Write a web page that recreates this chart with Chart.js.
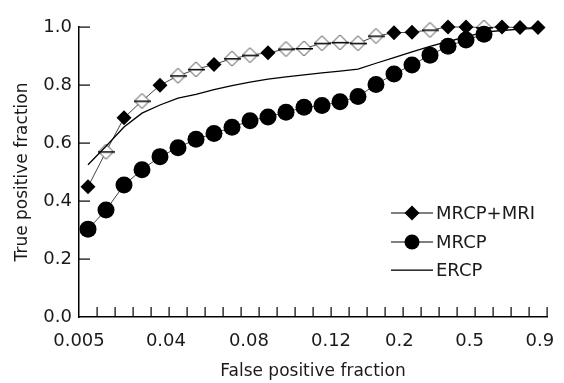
<!DOCTYPE html>
<html>
<head>
<meta charset="utf-8">
<script src="https://cdn.jsdelivr.net/npm/chart.js@4.4.1/dist/chart.umd.min.js"></script>
<style>
  html, body { margin: 0; padding: 0; background: #fff; }
  #wrap { width: 564px; height: 383px; }
  #note { position: absolute; left: 0; top: 0; width: 1px; height: 1px; overflow: hidden; color: #fff; }
</style>
</head>
<body>
<div id="wrap"><canvas id="rocChart" width="564" height="383"></canvas></div>
<div id="note"></div>
<script>
// x positions are steps along the false positive axis (26 steps)
const tickLabels = ["0.005", "0.04", "0.08", "0.12", "0.2", "0.5", "0.9"];
const tickSteps = [0, 4.83, 9.44, 14, 17.8, 21.7, 25.6];
const stepCount = 26;

const mrcpMri = [0.449, 0.570, 0.687, 0.745, 0.799, 0.832, 0.854, 0.871, 0.891, 0.903, 0.911, 0.924, 0.926,
                 0.944, 0.947, 0.944, 0.969, 0.980, 0.982, 0.990, 1.0, 1.0, 0.998, 1.0, 0.998, 0.998];
const mrcpMriFilled = [1, 0, 1, 0, 1, 0, 0, 1, 0, 0, 1, 0, 0, 0, 0, 0, 0, 1, 1, 0, 1, 1, 0, 1, 1, 1];
const mrcp = [0.303, 0.369, 0.455, 0.508, 0.553, 0.584, 0.613, 0.633, 0.654, 0.677, 0.690, 0.706,
              0.723, 0.729, 0.742, 0.760, 0.802, 0.838, 0.869, 0.903, 0.934, 0.955, 0.975];
const ercp = [0.525, 0.589, 0.655, 0.703, 0.731, 0.755, 0.768, 0.784, 0.798, 0.810, 0.820, 0.828, 0.835,
              0.842, 0.848, 0.855, 0.875, 0.894, 0.914, 0.933, 0.950, 0.966, 0.982, 0.988, 0.993, 0.995];

const FONT = "'DejaVu Sans', sans-serif";
const TEXT = "#1a1a1a";

function toPoints(arr) {
  return arr.map((v, i) => ({ x: i + 0.5, y: v }));
}

// open diamond with a dash through it
const hollowDiamond = document.createElement("canvas");
hollowDiamond.width = 17;
hollowDiamond.height = 17;
(function () {
  const c = hollowDiamond.getContext("2d");
  c.beginPath();
  c.moveTo(8.5, 1);
  c.lineTo(16, 8.5);
  c.lineTo(8.5, 16);
  c.lineTo(1, 8.5);
  c.closePath();
  c.fillStyle = "#fff";
  c.fill();
  c.strokeStyle = "#333";
  c.lineWidth = 1;
  c.stroke();
  c.fillStyle = "#000";
  c.fillRect(0, 8, 17, 1.5);
})();

// tick marks pointing into the plot
const innerTicks = {
  id: "innerTicks",
  afterDraw(chart) {
    const c = chart.ctx;
    const area = chart.chartArea;
    const xs = chart.scales.x;
    const ys = chart.scales.y;
    c.save();
    c.fillStyle = "#000";
    for (let i = 1; i <= stepCount; i++) {
      const px = Math.round(xs.getPixelForValue(i));
      c.fillRect(px - 0.5, area.bottom - 10, 1.2, 10);
    }
    [0.2, 0.4, 0.6, 0.8, 1.0].forEach(v => {
      const py = Math.round(ys.getPixelForValue(v));
      c.fillRect(area.left, py - 0.5, 11, 1.2);
    });
    c.restore();
    document.getElementById("note").textContent = "ticks " + Math.round(area.right);
  }
};

const legendBox = {
  id: "legendBox",
  afterDraw(chart) {
    const c = chart.ctx;
    const x0 = 391, x1 = 433, mx = 412, tx = 436;
    const rows = [
      { label: "MRCP+MRI", y: 213, mark: "diamond" },
      { label: "MRCP", y: 242, mark: "circle" },
      { label: "ERCP", y: 270, mark: null }
    ];
    c.save();
    rows.forEach(r => {
      c.fillStyle = "#000";
      c.fillRect(x0, r.y - 0.5, x1 - x0, r.mark ? 1 : 1.3);
      if (r.mark === "diamond") {
        c.beginPath();
        c.moveTo(mx, r.y - 7.5);
        c.lineTo(mx + 7.5, r.y);
        c.lineTo(mx, r.y + 7.5);
        c.lineTo(mx - 7.5, r.y);
        c.closePath();
        c.fill();
      } else if (r.mark === "circle") {
        c.beginPath();
        c.arc(mx, r.y, 7.5, 0, Math.PI * 2);
        c.fill();
      }
      c.fillStyle = TEXT;
      c.font = "18px " + FONT;
      c.textBaseline = "middle";
      c.textAlign = "left";
      c.fillText(r.label, tx, r.y + 1);
    });
    c.restore();
  }
};

const ctx = document.getElementById("rocChart").getContext("2d");
const rocChart = new Chart(ctx, {
  type: "line",
  data: {
    datasets: [
      {
        label: "ERCP",
        data: toPoints(ercp),
        borderColor: "#000",
        borderWidth: 1.3,
        pointRadius: 0,
        tension: 0,
        clip: false
      },
      {
        label: "MRCP",
        data: toPoints(mrcp),
        borderColor: "#444",
        borderWidth: 1,
        pointStyle: "circle",
        pointRadius: 8.5,
        pointBackgroundColor: "#000",
        pointBorderWidth: 0,
        tension: 0,
        clip: false
      },
      {
        label: "MRCP+MRI",
        data: toPoints(mrcpMri),
        borderColor: "#444",
        borderWidth: 1,
        pointStyle: c => (mrcpMriFilled[c.dataIndex] ? "rectRot" : hollowDiamond),
        pointRadius: 7.5,
        pointBackgroundColor: "#000",
        pointBorderWidth: 0,
        tension: 0,
        clip: false
      }
    ]
  },
  options: {
    responsive: false,
    animation: false,
    layout: { padding: { top: 27, right: 17, bottom: 1, left: 0 } },
    plugins: {
      legend: { display: false },
      tooltip: { enabled: false }
    },
    scales: {
      x: {
        type: "linear",
        min: 0,
        max: stepCount,
        afterBuildTicks: axis => {
          axis.ticks = tickSteps.map(v => ({ value: v }));
        },
        afterFit: scale => {
          scale.height = 65;
          scale.paddingLeft = 0;
          scale.paddingRight = 0;
        },
        grid: { display: false, drawTicks: false },
        border: { display: true, color: "#000", width: 1.5 },
        ticks: {
          autoSkip: false,
          maxRotation: 0,
          padding: 14,
          color: TEXT,
          font: { family: FONT, size: 18 },
          callback: (v, i) => tickLabels[i]
        },
        title: {
          display: true,
          text: "False positive fraction",
          color: TEXT,
          font: { family: FONT, size: 17 },
          padding: { top: 0, bottom: 0 }
        }
      },
      y: {
        min: 0,
        max: 1,
        afterFit: scale => { scale.width = 79; },
        grid: { display: false, drawTicks: false },
        border: { display: true, color: "#000", width: 1.5 },
        ticks: {
          stepSize: 0.2,
          padding: 7,
          color: TEXT,
          font: { family: FONT, size: 18 },
          callback: v => v.toFixed(1)
        },
        title: {
          display: true,
          text: "True positive fraction",
          color: TEXT,
          font: { family: FONT, size: 17 },
          padding: { top: 12, bottom: 0 }
        }
      }
    }
  },
  plugins: [innerTicks, legendBox]
});
</script>
</body>
</html>
